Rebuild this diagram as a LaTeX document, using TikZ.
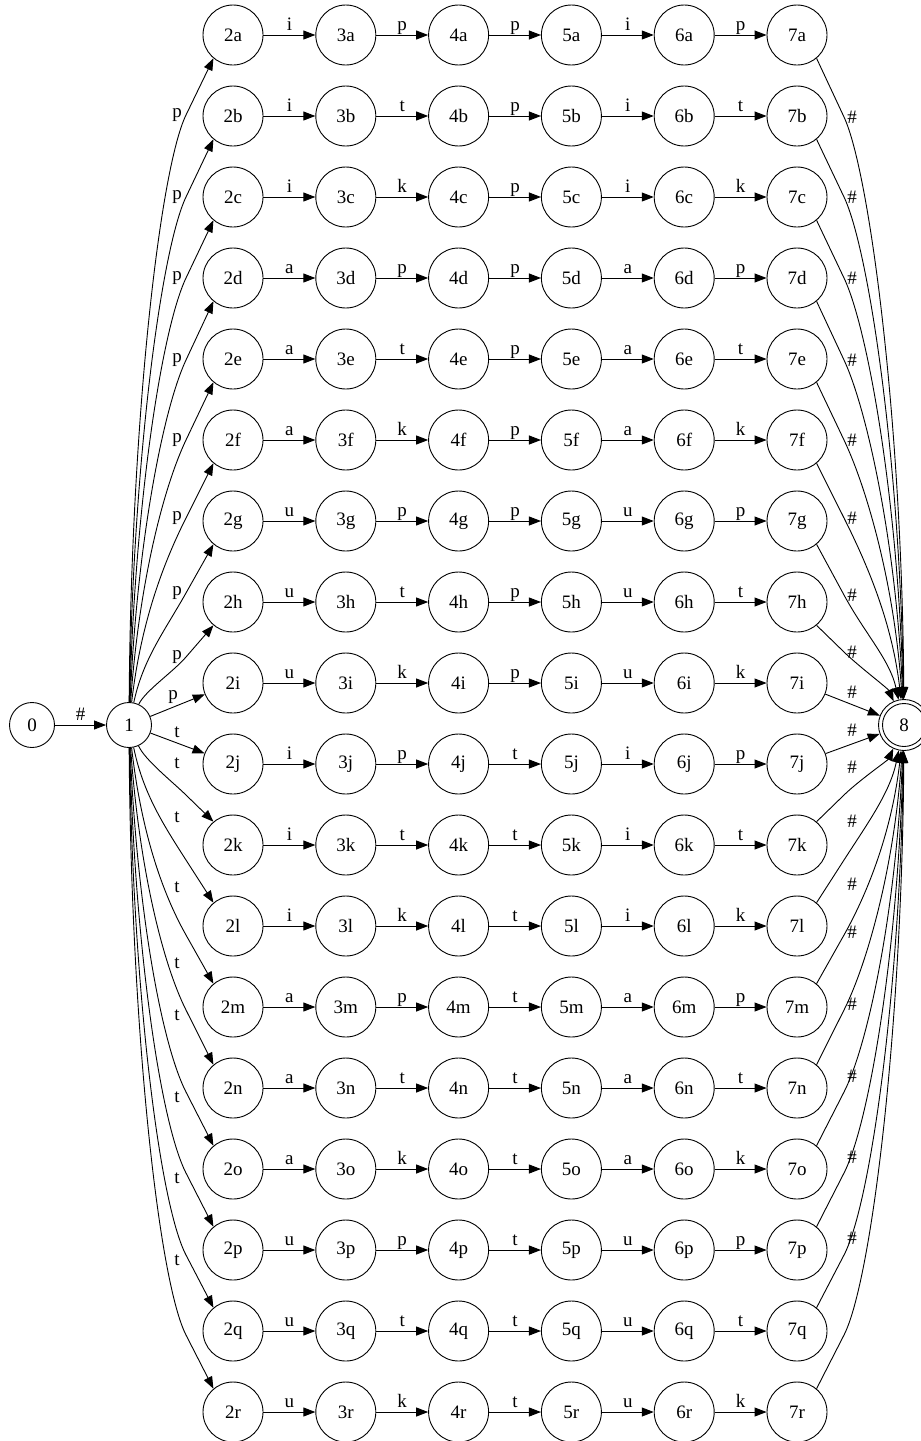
\documentclass[tikz,border=0pt]{standalone}
\usepackage{fontspec}
\setmainfont{Liberation Serif}
\usetikzlibrary{arrows.meta,calc}
\begin{document}
\begin{tikzpicture}[x=1pt,y=-1pt,
  every node/.style={font=\fontsize{19}{21}\selectfont},
  st/.style={circle,draw,line width=0.9pt,minimum size=60pt,inner sep=0pt},
  sst/.style={st,minimum size=45pt},
  edge/.style={line width=0.9pt,-{Triangle[length=12pt,width=9pt]}},
  hl/.style={midway,anchor=base,yshift=5pt,inner sep=0pt},
  lbl/.style={inner sep=0pt},
]
\useasboundingbox (0,0) rectangle (921,1441);
\node[sst] (n0) at (32,725) {0};
\node[sst] (one) at (129,725) {1};
\node[st,minimum size=51pt] (eight) at (904,725) {8};
\draw[line width=0.9pt] (eight.center) circle[radius=21.5pt];
\draw[edge] (n0) -- node[hl] (l01) {\#} (one);

\foreach \rw/\va/\cs/\md [count=\ri from 0] in {a/i/p/p,b/i/t/p,c/i/k/p,d/a/p/p,e/a/t/p,f/a/k/p,g/u/p/p,h/u/t/p,i/u/k/p,j/i/p/t,k/i/t/t,l/i/k/t,m/a/p/t,n/a/t/t,o/a/k/t,p/u/p/t,q/u/t/t,r/u/k/t}{
  \foreach \col in {2,...,7}
    \node[st] (n\col\rw) at ({233+112.8*(\col-2)},{35+81*\ri}) {\col\rw};
  \draw[edge] (n2\rw) -- node[hl] (la\rw) {\va} (n3\rw);
  \draw[edge] (n3\rw) -- node[hl] (lb\rw) {\cs} (n4\rw);
  \draw[edge] (n4\rw) -- node[hl] (lc\rw) {\md} (n5\rw);
  \draw[edge] (n5\rw) -- node[hl] (ld\rw) {\va} (n6\rw);
  \draw[edge] (n6\rw) -- node[hl] (le\rw) {\cs} (n7\rw);
}

% left fan, upper
\foreach \rw/\ly/\a/\mm in {a/115/2/60,b/197/4/58,c/278/6/56,d/360/8/54,e/440/10/52,f/518/12/50,g/593/14/44,h/657/16/20}{
  \coordinate (q\rw) at (186,\ly);
  \draw[edge] (one) .. controls ($(one)+(\a,{-0.5*(725-\ly)})$) and ($(q\rw)!-\mm pt!(n2\rw.230)$) .. (q\rw) -- (n2\rw.230);
  \node[lbl] (lp\rw) at (177,\ly) {p};
}
\draw[edge] (one) -- (n2i);
\node[lbl] (lpi) at (173,697) {p};

% left fan, lower
\foreach \rw/\ly/\a/\mm in {k/795/16/20,l/860/14/44,m/935/12/50,n/1010/10/52,o/1092/8/54,p/1173/6/56,q/1255/4/58,r/1335/2/60}{
  \coordinate (q\rw) at (186,\ly);
  \draw[edge] (one) .. controls ($(one)+(\a,{0.5*(\ly-725)})$) and ($(q\rw)!-\mm pt!(n2\rw.130)$) .. (q\rw) -- (n2\rw.130);
}
\draw[edge] (one) -- (n2j);
\foreach \ly [count=\k] in {732,763,817,887,963,1015,1097,1178,1260}
  \node[lbl] (lt\k) at (177,\ly) {t};

% right fan, upper
\foreach \rw/\ly/\a/\mm in {a/117/2/60,b/197/4/58,c/278/6/56,d/360/8/54,e/440/10/52,f/518/12/50,g/595/14/44,h/652/16/20}{
  \coordinate (r\rw) at (844,\ly);
  \draw[edge] (n7\rw.310) -- (r\rw) .. controls ($(r\rw)!-\mm pt!(n7\rw.310)$) and ($(eight)+(-\a,{-0.5*(725-\ly)})$) .. (eight);
  \node[lbl] (lh\rw) at (852,\ly) {\#};
}
\draw[edge] (n7i) -- (eight);
\node[lbl] (lhi) at (852,692) {\#};

% right fan, lower
\foreach \rw/\ly/\a/\mm in {k/795/16/20,l/860/14/44,m/935/12/50,n/1010/10/52,o/1092/8/54,p/1173/6/56,q/1255/4/58,r/1335/2/60}{
  \coordinate (r\rw) at (844,\ly);
  \draw[edge] (n7\rw.50) -- (r\rw) .. controls ($(r\rw)!-\mm pt!(n7\rw.50)$) and ($(eight)+(-\a,{0.5*(\ly-725)})$) .. (eight);
}
\draw[edge] (n7j) -- (eight);
\foreach \ly [count=\k] in {730,767,821,884,932,1004,1076,1157,1238}
  \node[lbl] (lg\k) at (852,\ly) {\#};
\end{tikzpicture}
\end{document}
